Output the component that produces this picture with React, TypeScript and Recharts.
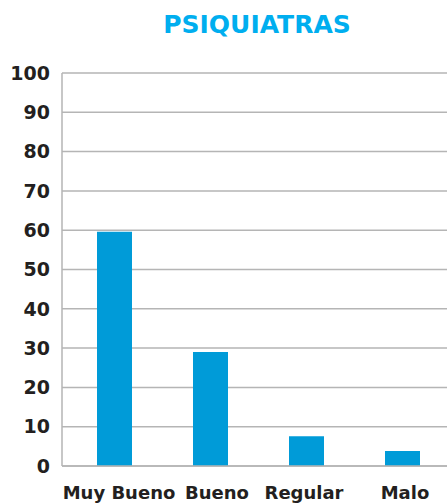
import { BarChart, Bar, XAxis, YAxis, CartesianGrid } from 'recharts';

const categories = ['Muy Bueno', 'Bueno', 'Regular', 'Malo'];
const values = [59.6, 29, 7.6, 3.8];
const yTicks = [0, 10, 20, 30, 40, 50, 60, 70, 80, 90, 100];

const BLUE = '#009bd8';
const TITLE = '#00aeef';
const GRID = '#b5b5b5';
const INK = '#231f20';
const FONT = '"DejaVu Sans", Verdana, sans-serif';

// small horizontal nudges of the category labels, like the original's layout
const LABEL_NUDGE: Record<string, number> = { 'Muy Bueno': 5, Bueno: 7, Regular: -2, Malo: 3 };

const data = categories.map((c, i) => ({ name: c, value: values[i] }));

function CatTick({ x, y, payload }: any) {
  return (
    <text
      x={x + (LABEL_NUDGE[payload.value] ?? 0)}
      y={y}
      dy="0.71em"
      textAnchor="middle"
      fontSize={18}
      fontWeight={700}
      fill={INK}
      fontFamily={FONT}
    >
      {payload.value}
    </text>
  );
}

export default function App() {
  return (
    <div style={{ position: 'absolute', left: 0, top: 0, width: 447, height: 503, overflow: 'hidden', background: '#fff', fontFamily: FONT }}>
      <div
        style={{
          position: 'absolute', left: 157, width: 200, top: 9, textAlign: 'center',
          fontSize: 25, fontWeight: 700, color: TITLE, lineHeight: '32px',
        }}
      >
        PSIQUIATRAS
      </div>
      <BarChart
        width={460}
        height={503}
        data={data}
        margin={{ top: 73, right: 10, bottom: 0, left: 0 }}
      >
        <CartesianGrid stroke={GRID} strokeWidth={1.5} vertical={false} />
        <XAxis
          dataKey="name"
          padding={{ left: 4, right: 0 }}
          height={37}
          tickLine={false}
          tickSize={0}
          tickMargin={20}
          axisLine={{ stroke: GRID, strokeWidth: 1.5 }}
          interval={0}
          tick={<CatTick />}
        />
        <YAxis
          width={62}
          domain={[0, 100]}
          ticks={yTicks}
          tickLine={false}
          tickSize={0}
          tickMargin={12}
          axisLine={{ stroke: GRID, strokeWidth: 1.5 }}
          tick={{ fontSize: 19, fontWeight: 700, fill: INK, fontFamily: FONT }}
        />
        <Bar dataKey="value" fill={BLUE} barSize={35} isAnimationActive={false} />
      </BarChart>
    </div>
  );
}
